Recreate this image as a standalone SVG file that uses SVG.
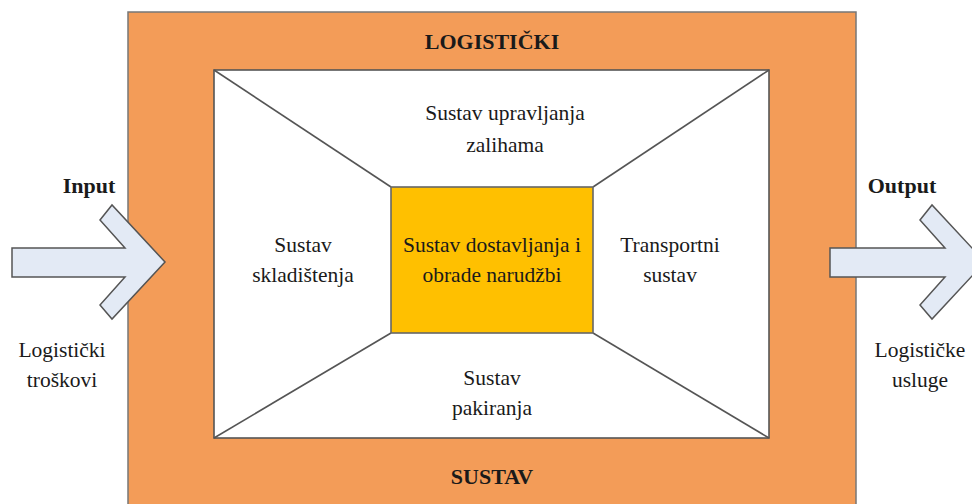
<svg xmlns="http://www.w3.org/2000/svg" width="972" height="504" viewBox="0 0 972 504">
<style>
.t{font-family:"Liberation Serif","Times New Roman",serif;font-size:21.5px;fill:#1a1a1a;text-anchor:middle}
.b{font-weight:bold;font-size:22px}
.ln{stroke:#555;stroke-width:1.6;fill:none}
.arr{fill:#E3EAF5;stroke:#555;stroke-width:1.5;stroke-linejoin:miter}
</style>
<rect width="972" height="504" fill="#fff"/>
<g id="outer">
<rect x="128" y="12" width="728" height="500" fill="#F39C58" stroke="#777" stroke-width="1.5"/>
<text class="t b" x="492" y="49">LOGISTIČKI</text>
<text class="t b" x="492" y="484">SUSTAV</text>
</g>
<g id="inner">
<rect x="214" y="70" width="555" height="368" fill="#fff" stroke="#555" stroke-width="1.6"/>
</g>
<g id="connectors">
<line class="ln" x1="214" y1="70" x2="391" y2="187"/>
<line class="ln" x1="769" y1="70" x2="593" y2="187"/>
<line class="ln" x1="214" y1="438" x2="391" y2="333"/>
<line class="ln" x1="769" y1="438" x2="593" y2="333"/>
</g>
<g id="center">
<rect x="391" y="187" width="202" height="146" fill="#FFC000" stroke="#666" stroke-width="1.6"/>
<text class="t" x="492" y="252">Sustav dostavljanja i</text>
<text class="t" x="492" y="282">obrade narudžbi</text>
</g>
<g id="top">
<text class="t" x="505" y="120">Sustav upravljanja</text>
<text class="t" x="505" y="152">zalihama</text>
</g>
<g id="left">
<text class="t" x="303" y="252">Sustav</text>
<text class="t" x="303" y="282">skladištenja</text>
</g>
<g id="right">
<text class="t" x="670" y="252">Transportni</text>
<text class="t" x="670" y="282">sustav</text>
</g>
<g id="bottom">
<text class="t" x="492" y="385">Sustav</text>
<text class="t" x="492" y="415">pakiranja</text>
</g>
<g id="input">
<polygon class="arr" points="12,248 125,248 100,220 112,205 165,262 112,319 100,305 125,277 12,277"/>
<text class="t b" x="89" y="193">Input</text>
<text class="t" x="62" y="357">Logistički</text>
<text class="t" x="62" y="387">troškovi</text>
</g>
<g id="output">
<polygon class="arr" points="830,248 945,248 920,220 932,205 985,262 932,319 920,305 945,277 830,277"/>
<text class="t b" x="902" y="193">Output</text>
<text class="t" x="920" y="357">Logističke</text>
<text class="t" x="920" y="387">usluge</text>
</g>
</svg>
